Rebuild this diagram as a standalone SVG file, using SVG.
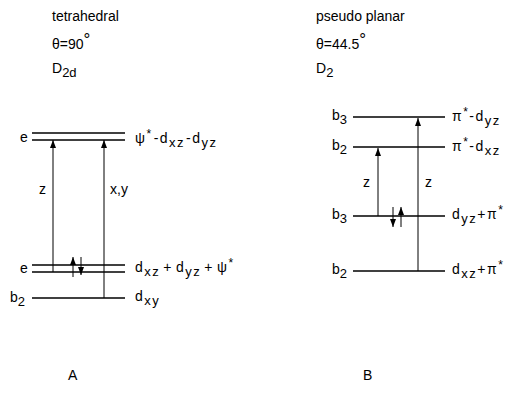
<svg xmlns="http://www.w3.org/2000/svg" width="511" height="403" viewBox="0 0 511 403">
<style>
text{font-family:"Liberation Sans",Arial,sans-serif;font-size:14px;fill:#000}
.m{letter-spacing:1.5px}
.sub{font-size:13px}
.deg{font-size:17px}
.lv{stroke:#000;stroke-width:1.3;fill:none}
.ar{stroke:#000;stroke-width:1;fill:none}
</style>
<defs>
<marker id="ah" viewBox="0 0 8 6" refX="8" refY="3" markerWidth="8" markerHeight="6" orient="auto" markerUnits="userSpaceOnUse">
<path d="M0,0 L8,3 L0,6 Z" fill="#000"/>
</marker>
</defs>
<rect width="511" height="403" fill="#fff"/>
<g id="headerA">
<text x="52" y="21">tetrahedral</text>
<text x="52" y="49">θ=90<tspan class="deg" dy="-4">°</tspan></text>
<text x="52" y="73">D<tspan class="sub" dy="4">2d</tspan></text>
</g>
<g id="headerB">
<text x="316" y="21">pseudo planar</text>
<text x="316" y="49">θ=44.5<tspan class="deg" dy="-4">°</tspan></text>
<text x="316" y="73">D<tspan class="sub" dy="4">2</tspan></text>
</g>
<g id="A-e-upper">
<line class="lv" x1="32" y1="133" x2="125" y2="133"/>
<line class="lv" x1="32" y1="140" x2="125" y2="140"/>
<text x="20" y="142">e</text>
<text class="m" x="135" y="143">ψ<tspan dy="-5" font-size="12">*</tspan><tspan dy="5" dx="1">-d</tspan><tspan class="sub" dy="4">xz</tspan><tspan dy="-4" dx="1">-d</tspan><tspan class="sub" dy="4">yz</tspan></text>
</g>
<g id="A-e-lower">
<line class="lv" x1="32" y1="265" x2="125" y2="265"/>
<line class="lv" x1="32" y1="272" x2="125" y2="272"/>
<text x="20" y="273">e</text>
<text class="m" x="135" y="272">d<tspan class="sub" dy="4">xz</tspan><tspan dy="-4" dx="3">+</tspan><tspan dx="3">d</tspan><tspan class="sub" dy="4">yz</tspan><tspan dy="-4" dx="3">+</tspan><tspan dx="3">ψ</tspan><tspan dy="-5" font-size="12">*</tspan></text>
</g>
<g id="A-b2">
<line class="lv" x1="32" y1="298" x2="125" y2="298"/>
<text x="10" y="302">b<tspan class="sub" dy="4">2</tspan></text>
<text class="m" x="135" y="301">d<tspan class="sub" dy="4">xy</tspan></text>
</g>
<g id="B-b3-upper">
<line class="lv" x1="353" y1="117" x2="445" y2="117"/>
<text x="332" y="120">b<tspan class="sub" dy="4">3</tspan></text>
<text class="m" x="452" y="121">π<tspan dy="-5" font-size="12">*</tspan><tspan dy="5">-d</tspan><tspan class="sub" dy="4">yz</tspan></text>
</g>
<g id="B-b2-upper">
<line class="lv" x1="353" y1="147" x2="445" y2="147"/>
<text x="332" y="150">b<tspan class="sub" dy="4">2</tspan></text>
<text class="m" x="452" y="151">π<tspan dy="-5" font-size="12">*</tspan><tspan dy="5">-d</tspan><tspan class="sub" dy="4">xz</tspan></text>
</g>
<g id="B-b3-lower">
<line class="lv" x1="353" y1="216" x2="445" y2="216" stroke-width="2"/>
<text x="332" y="219">b<tspan class="sub" dy="4">3</tspan></text>
<text class="m" x="452" y="219">d<tspan class="sub" dy="4">yz</tspan><tspan dy="-4">+π</tspan><tspan dy="-5" font-size="12">*</tspan></text>
</g>
<g id="B-b2-lower">
<line class="lv" x1="353" y1="271" x2="445" y2="271"/>
<text x="332" y="274">b<tspan class="sub" dy="4">2</tspan></text>
<text class="m" x="452" y="274">d<tspan class="sub" dy="4">xz</tspan><tspan dy="-4">+π</tspan><tspan dy="-5" font-size="12">*</tspan></text>
</g>
<g id="connectors">
<line class="ar" x1="53" y1="272" x2="53" y2="140" marker-end="url(#ah)"/>
<line class="ar" x1="104" y1="298" x2="104" y2="140" marker-end="url(#ah)"/>
<line class="ar" x1="378" y1="216" x2="378" y2="148" marker-end="url(#ah)"/>
<line class="ar" x1="418" y1="271" x2="418" y2="118" marker-end="url(#ah)"/>
<line class="ar" x1="73" y1="277" x2="73" y2="257" marker-end="url(#ah)"/>
<line class="ar" x1="81" y1="257" x2="81" y2="275" marker-end="url(#ah)"/>
<line class="ar" x1="393" y1="207" x2="393" y2="227" marker-end="url(#ah)"/>
<line class="ar" x1="401" y1="227" x2="401" y2="207" marker-end="url(#ah)"/>
</g>
<g id="labels">
<text x="39" y="194">z</text>
<text x="110" y="194">x,y</text>
<text x="363" y="187">z</text>
<text x="425" y="187">z</text>
<text x="68" y="380">A</text>
<text x="363" y="380">B</text>
</g>
</svg>
